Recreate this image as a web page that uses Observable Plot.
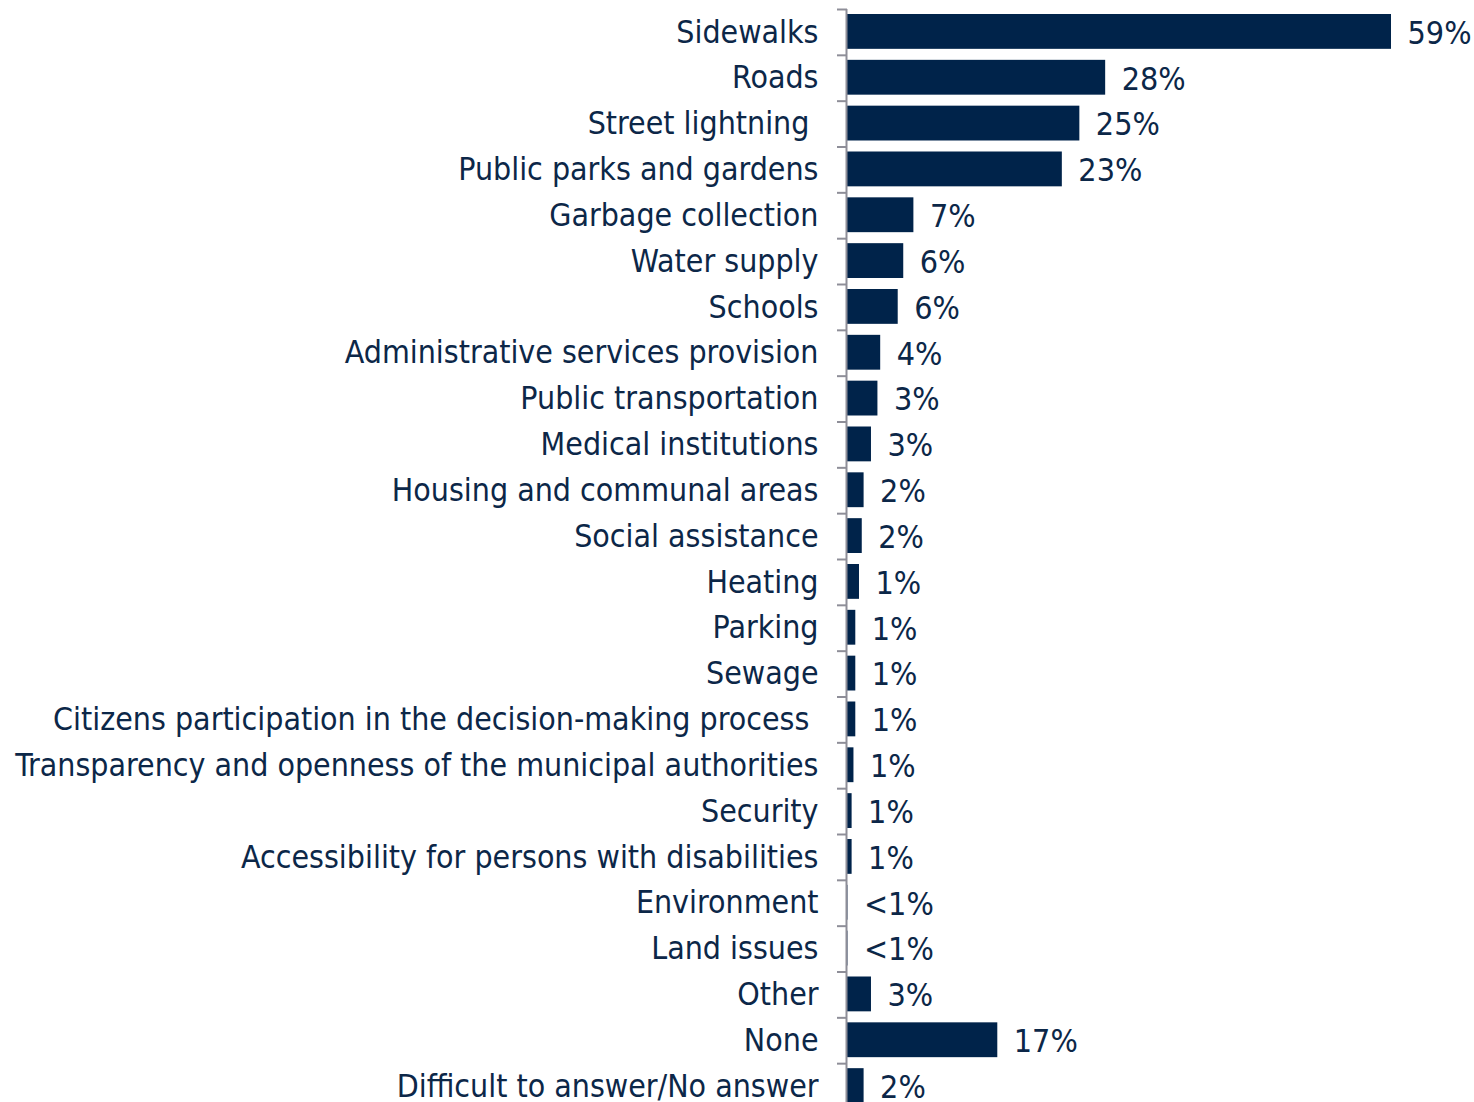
<!DOCTYPE html>
<html><head><meta charset="utf-8">
<script src="https://cdn.jsdelivr.net/npm/d3@7"></script>
<script src="https://cdn.jsdelivr.net/npm/@observablehq/plot@0.6"></script>
<style>
html,body{margin:0;padding:0;background:#fff;overflow:hidden;width:1474px;height:1102px}
svg text{white-space:pre}
</style>
</head><body><div id="chart"></div>
<script>
const categories = [
  "Sidewalks", "Roads", "Street lightning ", "Public parks and gardens", "Garbage collection",
  "Water supply", "Schools", "Administrative services provision", "Public transportation",
  "Medical institutions", "Housing and communal areas", "Social assistance", "Heating",
  "Parking", "Sewage", "Citizens participation in the decision-making process ",
  "Transparency and openness of the municipal authorities", "Security",
  "Accessibility for persons with disabilities", "Environment", "Land issues", "Other",
  "None", "Difficult to answer/No answer"
];
const values = [59, 28, 25.2, 23.3, 7.2, 6.1, 5.5, 3.6, 3.3, 2.6, 1.8, 1.6, 1.3, 0.9, 0.9, 0.9, 0.7, 0.5, 0.5, 0.05, 0.05, 2.6, 16.3, 1.8];
const valueLabels = ["59%", "28%", "25%", "23%", "7%", "6%", "6%", "4%", "3%", "3%", "2%", "2%", "1%", "1%", "1%", "1%", "1%", "1%", "1%", "<1%", "<1%", "3%", "17%", "2%"];

const data = categories.map((c, i) => ({category: c, value: values[i], label: valueLabels[i]}));

const W = 1474, H = 1110, mt = 9, mb = 1, ml = 847, mr = 83;
const step = (H - mt - mb) / categories.length;
const navy = "#00234a", textColor = "#0c2748", grey = "#8e8e98";

const plot = Plot.plot({
  width: W, height: H,
  marginTop: mt, marginBottom: mb, marginLeft: ml, marginRight: mr,
  style: {fontFamily: "'DejaVu Sans Condensed', 'DejaVu Sans', sans-serif", color: textColor, background: "#fff", overflow: "visible"},
  x: {domain: [0, 59], axis: null},
  y: {domain: categories, padding: 0, round: false, label: null, axis: null},
  marks: [
    Plot.barX(data, {x: "value", y: "category", fill: navy, insetTop: 5, insetBottom: 6}),
    Plot.axisY({tickSize: 0, tickPadding: 29, fontSize: 31.8, fill: textColor, label: null}),
    Plot.axisY({tickSize: 10, tickFormat: () => "", dy: -step / 2, stroke: grey, strokeWidth: 2, label: null}),
    Plot.ruleX([0], {stroke: grey, strokeWidth: 2, dx: -1}),
    Plot.text(data, {x: "value", y: "category", text: "label", textAnchor: "start", dx: 16, dy: 1, fontSize: 32, fill: textColor})
  ]
});
document.getElementById("chart").appendChild(plot);
</script>
</body></html>
